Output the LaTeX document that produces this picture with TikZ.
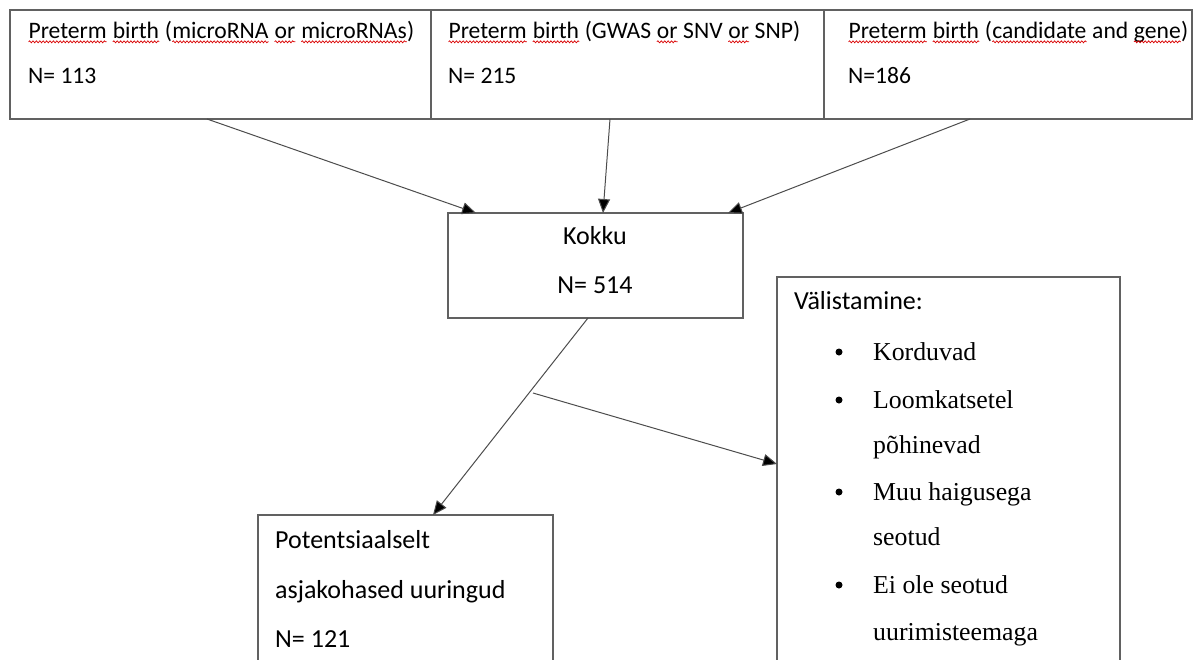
\documentclass[tikz,border=0pt]{standalone}
\usepackage{fontspec}
\setmainfont{Carlito}
\newfontfamily\serif{Liberation Serif}
\usetikzlibrary{arrows.meta,calc,decorations.pathmorphing}
\newcommand\wavy[1]{\tikz[baseline=(wv.base)]{\node[inner sep=0,outer sep=0,anchor=base](wv){#1};\draw[red!85!black,line width=0.7pt,decorate,decoration={snake,amplitude=1pt,segment length=3.4pt}] ([yshift=-3.8pt]wv.base west)--([yshift=-3.8pt]wv.base east);}}
\tikzset{
  box/.style={draw=black!62, line width=1.3pt, anchor=north west, inner sep=0, outer sep=0},
  txt/.style={anchor=base west, inner sep=0, font=\fontsize{26}{30}\selectfont},
  ttxt/.style={anchor=base west, inner sep=0, font=\fontsize{23.6}{28}\selectfont},
  ctxt/.style={anchor=base, inner sep=0, font=\fontsize{26}{30}\selectfont},
  stxt/.style={anchor=base west, inner sep=0, font=\serif\fontsize{25.8}{30}\selectfont},
  bul/.style={circle, fill=black, inner sep=0, minimum size=7pt},
  conn/.style={draw=black!70, line width=1pt, -{Triangle[length=14pt,width=12pt,fill=black]}}
}
\begin{document}
\begin{tikzpicture}[x=1pt,y=-1pt]
\useasboundingbox (0,0) rectangle (1202,659);
\clip (0,0) rectangle (1202,659);
% top boxes
\node[box, minimum width=421pt, minimum height=109pt] (b1) at (10,10) {};
\node[box, minimum width=393pt, minimum height=109pt] (b2) at (431,10) {};
\node[box, minimum width=368pt, minimum height=109pt] (b3) at (824,10) {};
\node[ttxt] (t1a) at (28,38) {\wavy{Preterm} \wavy{birth} (\wavy{microRNA} \wavy{or} \wavy{microRNAs})};
\node[ttxt] (t1b) at (28,83) {N= 113};
\node[ttxt] (t2a) at (448,38) {\wavy{Preterm} \wavy{birth} (GWAS \wavy{or} SNV \wavy{or} SNP)};
\node[ttxt] (t2b) at (448,83) {N= 215};
\node[ttxt] (t3a) at (848,38) {\wavy{Preterm} \wavy{birth} (\wavy{candidate} and \wavy{gene})};
\node[ttxt] (t3b) at (848,83) {N=186};
% Kokku
\node[box, minimum width=295pt, minimum height=105pt] (k) at (448,213) {};
\node[ctxt] (ka) at (595,244) {Kokku};
\node[ctxt] (kb) at (595,293) {N= 514};
% Valistamine
\node[box, minimum width=343pt, minimum height=420pt] (v) at (777,277) {};
\node[txt] (va) at (794,309) {Välistamine:};
\node[bul] (v1) at (839,352) {};
\node[bul] (v2) at (839,400) {};
\node[bul] (v3) at (839,492) {};
\node[bul] (v4) at (839,585) {};
\node[stxt] (s1) at (873,360) {Korduvad};
\node[stxt] (s2) at (873,408) {Loomkatsetel};
\node[stxt] (s3) at (873,453) {põhinevad};
\node[stxt] (s4) at (873,500) {Muu haigusega};
\node[stxt] (s5) at (873,545) {seotud};
\node[stxt] (s6) at (873,593) {Ei ole seotud};
\node[stxt] (s7) at (873,640) {uurimisteemaga};
% Potentsiaalselt
\node[box, minimum width=295pt, minimum height=200pt] (p) at (258,515) {};
\node[txt] (pa) at (275,548) {Potentsiaalselt};
\node[txt] (pb) at (275,598) {asjakohased uuringud};
\node[txt] (pc) at (275,647) {N= 121};
% connectors
\coordinate (c1) at (207,119);
\coordinate (c2) at (610,119);
\coordinate (c3) at (970,119);
\draw[conn] (c1) -- (k.north west -| 476,0);
\draw[conn] (c2) -- (k.north west -| 603,0);
\draw[conn] (c3) -- (k.north west -| 728,0);
\coordinate (kd) at (588,318);
\coordinate (pu) at (433,515);
\draw[conn] (kd) -- (pu);
\coordinate (br) at (533,393);
\draw[conn] (br) -- (v.north west |- 0,464);
\end{tikzpicture}
\end{document}
